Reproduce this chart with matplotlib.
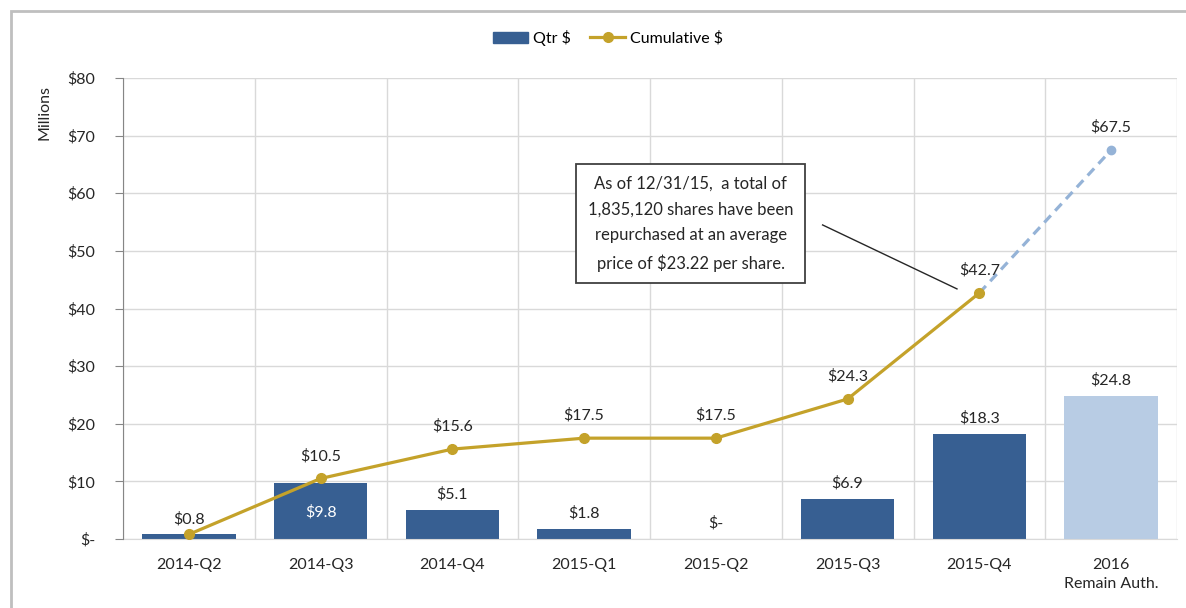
import matplotlib.pyplot as plt
import numpy as np
from matplotlib.patches import Rectangle
from matplotlib.lines import Line2D

plt.rcParams['font.family'] = ['Lato', 'DejaVu Sans']

# data
categories = ['2014-Q2', '2014-Q3', '2014-Q4', '2015-Q1', '2015-Q2', '2015-Q3', '2015-Q4', '2016\nRemain Auth.']
qtr = [0.8, 9.8, 5.1, 1.8, 0.0, 6.9, 18.3, 24.8]
qtr_labels = ['$0.8', '$9.8', '$5.1', '$1.8', '$-', '$6.9', '$18.3', '$24.8']
cumulative = [0.8, 10.5, 15.6, 17.5, 17.5, 24.3, 42.7]
cum_labels = ['', '$10.5', '$15.6', '$17.5', '$17.5', '$24.3', '$42.7']
projected = [42.7, 67.5]
yticks = [0, 10, 20, 30, 40, 50, 60, 70, 80]
ytick_labels = ['$-', '$10', '$20', '$30', '$40', '$50', '$60', '$70', '$80']
note = 'As of 12/31/15,  a total of\n1,835,120 shares have been\nrepurchased at an average\nprice of $23.22 per share.'

dark_blue = '#375F92'
light_blue = '#B8CCE4'
gold = '#C4A22A'
dash_blue = '#95B3D7'
txt = '#262626'

fig = plt.figure(figsize=(11.86, 6.08), dpi=100)
ax = fig.add_axes([123/1186, 1 - 539/608, (1177 - 123)/1186, (539 - 78)/608])

x = np.arange(len(categories))
colors = [dark_blue] * 7 + [light_blue]
ax.bar(x, qtr, width=0.71, color=colors, zorder=2)

# bar labels
for i, (v, lab) in enumerate(zip(qtr, qtr_labels)):
    if i == 1:
        ax.text(i, v / 2 - 0.3, lab, ha='center', va='center', color='white', fontsize=11.5, zorder=5)
    else:
        ax.annotate(lab, (i, v), xytext=(0, 6), textcoords='offset points',
                    ha='center', va='bottom', color=txt, fontsize=11.5, zorder=5)

# cumulative line
ax.plot(x[:7], cumulative, color=gold, lw=2.3, marker='o', ms=7, zorder=4)
ax.plot(x[6:8], projected, color=dash_blue, lw=2.3, ls=(0, (3, 2)), zorder=3)
ax.plot(x[7], projected[1], marker='o', ms=6, color=dash_blue, zorder=3)
for i, (v, lab) in enumerate(zip(cumulative, cum_labels)):
    if lab:
        ax.annotate(lab, (i, v), xytext=(0, 11), textcoords='offset points',
                    ha='center', va='bottom', color=txt, fontsize=11.5, zorder=5)
ax.annotate('$67.5', (7, projected[1]), xytext=(0, 11), textcoords='offset points',
            ha='center', va='bottom', color=txt, fontsize=11.5, zorder=5)

# note box with leader line
ax.text(3.81, 54.7, note, ha='center', va='center', fontsize=12, color=txt,
        linespacing=1.75, zorder=6,
        bbox=dict(boxstyle='square,pad=0.7', fc='white', ec='#404040', lw=1.3))
ax.plot([4.81, 5.83], [54.5, 43.4], color='#262626', lw=1.0, zorder=6)

# axes styling
ax.set_xlim(-0.5, 7.5)
ax.set_ylim(0, 80)
ax.set_yticks(yticks)
ax.set_yticklabels(ytick_labels)
ax.set_xticks(x)
ax.set_xticklabels(categories, linespacing=1.4)
ax.set_xticks(np.arange(-0.5, 8, 1), minor=True)
ax.grid(True, axis='y', color='#D9D9D9', lw=1, zorder=0)
ax.grid(True, axis='x', which='minor', color='#D9D9D9', lw=1, zorder=0)
ax.tick_params(axis='x', which='both', length=0, pad=14, labelsize=11.5, labelcolor=txt)
ax.tick_params(axis='y', length=6, color='#868686', pad=14, labelsize=11.5, labelcolor=txt)
for t in ax.get_yticklabels():
    t.set_horizontalalignment('right')
for s in ['top', 'right']:
    ax.spines[s].set_visible(False)
ax.spines['left'].set_color('#868686')
ax.spines['bottom'].set_color('#D9D9D9')
ax.spines['left'].set_zorder(3)

fig.text(45/1186, 1 - 112/608, 'Millions', rotation=90, ha='center', va='center', fontsize=11.5, color=txt)

# legend
handles = [Rectangle((0, 0), 1, 1, color=dark_blue),
           Line2D([], [], color=gold, lw=2.3, marker='o', ms=7)]
fig.legend(handles, ['Qtr $', 'Cumulative $'], loc='center', bbox_to_anchor=(608/1186, 1 - 38/608),
           ncol=2, frameon=False, fontsize=11.5, handlelength=2.2, handletextpad=0.3, columnspacing=1.2)

# outer frame
fig.patches.append(Rectangle((11/1186, -0.05), 1.1, 1.05 - 11/608, transform=fig.transFigure,
                             fill=False, ec='#BFBFBF', lw=2))

fig.savefig('out.png', dpi=100)
